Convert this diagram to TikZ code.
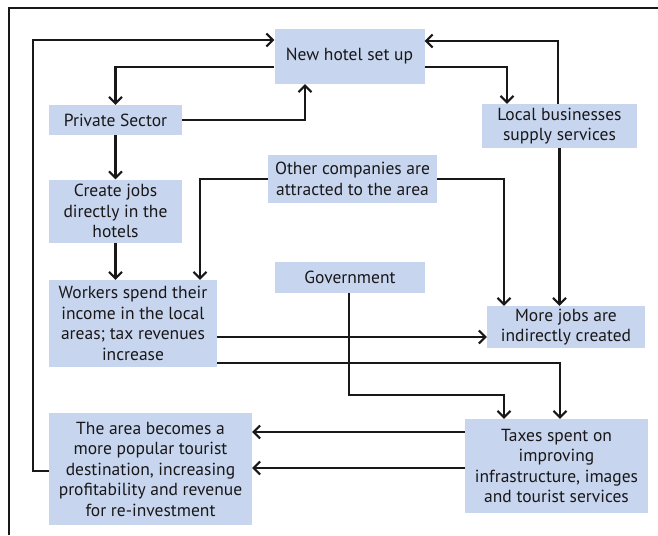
\documentclass[tikz,border=0pt]{standalone}
\usepackage{fontspec}
\setmainfont{PT Sans}
\usetikzlibrary{arrows.meta}
\definecolor{boxfill}{RGB}{199,214,238}
\definecolor{ink}{RGB}{25,23,25}
\begin{document}
\begin{tikzpicture}[x=1pt,y=-1pt,
  box/.style={draw=none,fill=boxfill,rectangle,inner sep=0pt,align=center,text=ink,
    font=\fontsize{17.5}{20.5}\selectfont},
  arr/.style={line width=2.2pt,draw=ink,-{Straight Barb[length=6.5pt,width=13pt,line width=2.1pt]}},
  frame/.style={line width=2pt,draw=ink}]
\useasboundingbox (0,0) rectangle (658,535);
\draw[frame] (9,535) -- (9,8) -- (658,8);
% boxes
\node[box,minimum width=150,minimum height=55] (hotel) at (349.5,56.5) {New hotel set up};
\node[box,minimum width=133,minimum height=30] (psec) at (115.5,120) {Private Sector};
\node[box,minimum width=133,minimum height=63] (jobs) at (115.5,211) {Create jobs\\directly in the\\hotels};
\node[box,minimum width=169,minimum height=48] (other) at (352.5,179) {Other companies are\\attracted to the area};
\node[box,minimum width=155,minimum height=44] (local) at (559.5,126) {Local businesses\\supply services};
\node[box,minimum width=168,minimum height=87] (workers) at (133,323.5) {Workers spend their\\income in the local\\areas; tax revenues\\increase};
\node[box,minimum width=150,minimum height=31] (gov) at (350,277.5) {Government};
\node[box,minimum width=158,minimum height=42] (more) at (566,327) {More jobs are\\indirectly created};
\node[box,minimum width=183,minimum height=94] (taxes) at (556.5,466) {Taxes spent on\\improving\\infrastructure, images\\and tourist services};
\node[box,minimum width=203,minimum height=112] (area) at (150.5,469) {The area becomes a\\more popular tourist\\destination, increasing\\profitability and revenue\\for re-investment};
% connectors
\draw[arr] (area.west |- 0,471) -| (33,40) -- (hotel.west |- 0,40);
\draw[arr] (hotel.west |- 0,67) -| (psec.north);
\draw[arr] (psec.east) -| (hotel.south -| 305,0);
\draw[arr] (psec.south) -- (jobs.north);
\draw[arr] (jobs.south) -- (jobs.south |- workers.north);
\draw[arr] (other.west) -| (workers.north -| 200,0);
\draw[arr] (other.east) -| (more.north -| 504,0);
\draw[arr] (hotel.east |- 0,67) -| (local.north -| 507,0);
\draw[arr] (local.north -| 558,0) |- (hotel.east |- 0,41);
\draw[arr] (local.south) -- (local.south |- more.north);
\draw[arr] (workers.east |- 0,337) -- (more.west |- 0,337);
\draw[arr] (workers.east |- 0,363) -| (taxes.north -| 560,0);
\draw[arr] (gov.south -| 349,0) -- (349,395) -| (taxes.north -| 504,0);
\draw[arr] (taxes.west |- 0,432) -- (area.east |- 0,432);
\draw[arr] (taxes.west |- 0,468) -- (area.east |- 0,468);
\end{tikzpicture}
\end{document}
